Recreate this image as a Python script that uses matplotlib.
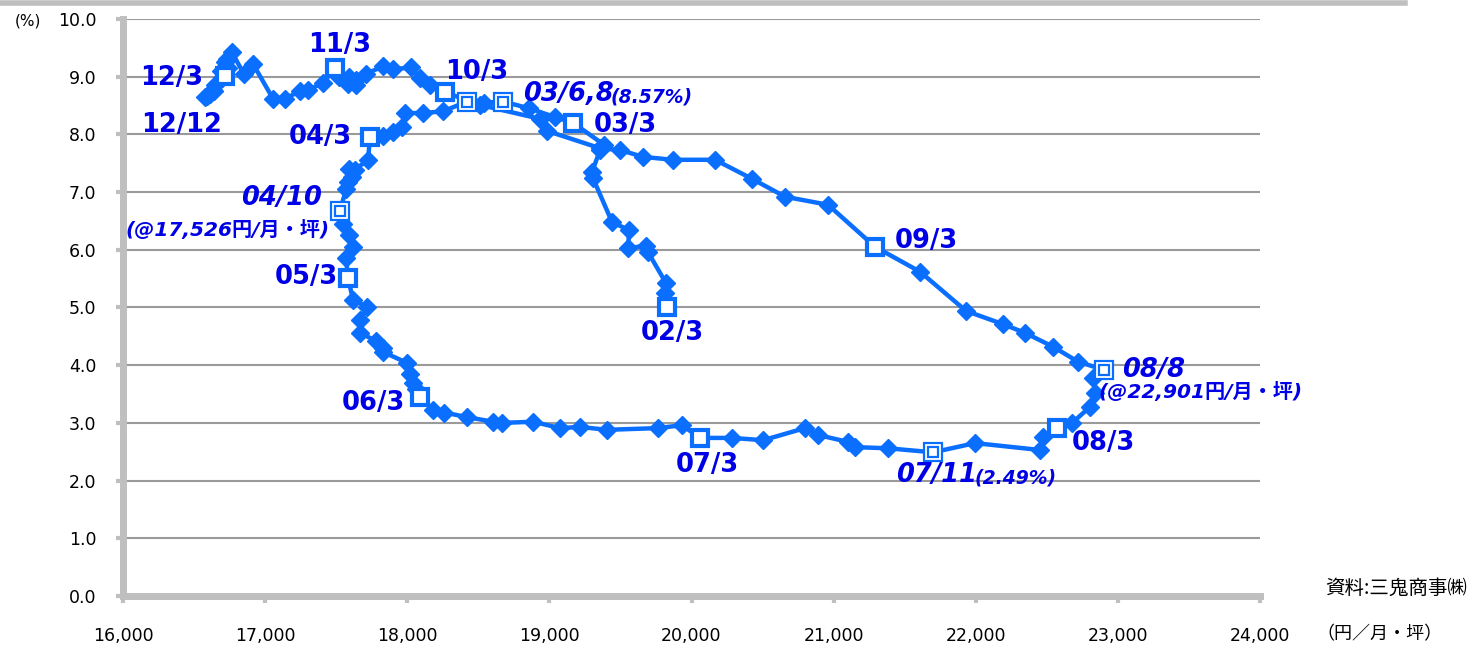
import matplotlib
matplotlib.use("Agg")
import matplotlib.pyplot as plt
from matplotlib.lines import Line2D
from matplotlib.ticker import FuncFormatter

# ---------------- data ----------------
months = [
    "02/3", "02/4", "02/5", "02/6", "02/7", "02/8", "02/9", "02/10", "02/11", "02/12",
    "03/1", "03/2", "03/3", "03/4", "03/5", "03/6", "03/7", "03/8", "03/9", "03/10", "03/11", "03/12",
    "04/1", "04/2", "04/3", "04/4", "04/5", "04/6", "04/7", "04/8", "04/9", "04/10", "04/11", "04/12",
    "05/1", "05/2", "05/3", "05/4", "05/5", "05/6", "05/7", "05/8", "05/9", "05/10", "05/11", "05/12",
    "06/1", "06/2", "06/3", "06/4", "06/5", "06/6", "06/7", "06/8", "06/9", "06/10", "06/11", "06/12",
    "07/1", "07/2", "07/3", "07/4", "07/5", "07/6", "07/7", "07/8", "07/9", "07/10", "07/11", "07/12",
    "08/1", "08/2", "08/3", "08/4", "08/5", "08/6", "08/7", "08/8", "08/9", "08/10", "08/11", "08/12",
    "09/1", "09/2", "09/3", "09/4", "09/5", "09/6", "09/7", "09/8", "09/9", "09/10", "09/11", "09/12",
    "10/1", "10/2", "10/3", "10/4", "10/5", "10/6", "10/7", "10/8", "10/9", "10/10", "10/11", "10/12",
    "11/1", "11/2", "11/3", "11/4", "11/5", "11/6", "11/7", "11/8", "11/9", "11/10", "11/11", "11/12",
    "12/1", "12/2", "12/3", "12/4", "12/5", "12/6", "12/7", "12/8", "12/9", "12/10", "12/11", "12/12",
]
rent = [
    19828, 19814, 19821, 19694, 19680, 19554, 19561, 19441, 19307, 19300,
    19357, 19385, 19167, 19040, 18860, 18674, 18540, 18421, 18252, 18111, 17984, 17963,
    17900, 17830, 17738, 17724, 17633, 17590, 17611, 17583, 17570, 17526, 17548, 17590,
    17619, 17570, 17583, 17619, 17717, 17668, 17668, 17780, 17830, 17830, 17998, 18020,
    18041, 18060, 18090, 18181, 18260, 18421, 18604, 18667, 18885, 19075, 19216, 19406,
    19765, 19933, 20060, 20285, 20504, 20799, 20891, 21102, 21151, 21383, 21700, 21995,
    22453, 22474, 22572, 22678, 22805, 22840, 22826, 22901, 22720, 22544, 22347, 22193,
    21932, 21608, 21292, 20961, 20658, 20426, 20166, 19870, 19659, 19497, 19357, 18984,
    18934, 18512, 18266, 18160, 18090, 18027, 17900, 17830, 17710, 17640, 17590, 17640,
    17580, 17520, 17492, 17407, 17302, 17245, 17140, 17055, 16915, 16850, 16767, 16732,
    16740, 16700, 16718, 16720, 16690, 16650, 16640, 16610, 16633, 16600, 16590, 16577,
]
vacancy = [
    5.00, 5.25, 5.42, 5.96, 6.07, 6.03, 6.34, 6.48, 7.24, 7.35,
    7.73, 7.82, 8.20, 8.30, 8.45, 8.57, 8.55, 8.57, 8.40, 8.37, 8.37, 8.13,
    8.05, 7.97, 7.95, 7.56, 7.39, 7.40, 7.26, 7.18, 7.05, 6.67, 6.45, 6.25,
    6.05, 5.85, 5.51, 5.13, 5.01, 4.78, 4.56, 4.42, 4.30, 4.23, 4.04, 3.85,
    3.69, 3.58, 3.45, 3.22, 3.18, 3.10, 3.02, 3.00, 3.02, 2.91, 2.93, 2.88,
    2.91, 2.96, 2.74, 2.74, 2.70, 2.91, 2.79, 2.67, 2.58, 2.56, 2.49, 2.65,
    2.53, 2.76, 2.91, 3.00, 3.28, 3.52, 3.78, 3.92, 4.06, 4.32, 4.56, 4.71,
    4.94, 5.62, 6.05, 6.78, 6.92, 7.23, 7.56, 7.56, 7.61, 7.73, 7.76, 8.06,
    8.27, 8.51, 8.73, 8.85, 8.98, 9.16, 9.13, 9.18, 9.05, 8.85, 9.00, 8.95,
    8.88, 9.00, 9.15, 8.89, 8.77, 8.75, 8.62, 8.62, 9.22, 9.05, 9.42, 9.30,
    9.15, 8.98, 9.02, 9.25, 9.10, 8.85, 8.75, 8.70, 8.77, 8.68, 8.66, 8.65,
]
double_marks = ["03/6", "03/8", "04/10", "07/11", "08/8"]

x_ticks = [16000, 17000, 18000, 19000, 20000, 21000, 22000, 23000, 24000]
y_ticks = [0, 1, 2, 3, 4, 5, 6, 7, 8, 9, 10]

# labels: (text, x, y, ha, italic)
labels = [
    ("12/3", 16345, 8.98, "center", False),
    ("12/12", 16415, 8.16, "center", False),
    ("11/3", 17527, 9.55, "center", False),
    ("10/3", 18491, 9.08, "center", False),
    ("03/6,8", 18815, 8.70, "left", True),
    ("03/3", 19314, 8.16, "left", False),
    ("04/3", 17611, 7.95, "right", False),
    ("04/10", 17400, 6.90, "right", True),
    ("05/3", 17513, 5.53, "right", False),
    ("02/3", 19863, 4.56, "center", False),
    ("06/3", 17984, 3.34, "right", False),
    ("07/3", 20109, 2.27, "center", False),
    ("09/3", 21433, 6.15, "left", False),
    ("08/8", 23030, 3.92, "left", True),
    ("08/3", 22678, 2.65, "left", False),
    ("07/11", 21440, 2.10, "left", True),
]
small_labels = [
    ("(8.57%)", 19430, 8.65, "left"),
    ("(2.49%)", 21990, 2.05, "left"),
    ("(@17,526円/月・坪)", 17457, 6.34, "right"),
    ("(@22,901円/月・坪)", 22861, 3.54, "left"),
]

# ---------------- style ----------------
LINE = "#0A6EFF"
TXT = "#0000E6"
GRAY = "#BFBFBF"
JP = ["DejaVu Sans", "Noto Sans CJK JP"]
plt.rcParams["font.family"] = JP

fig = plt.figure(figsize=(14.69, 6.49), dpi=100)
ax = fig.add_axes([123 / 1469, 53 / 649, (1260 - 123) / 1469, (596 - 19) / 649])

ax.plot(rent, vacancy, color=LINE, lw=3.2, marker="D", ms=9, mfc=LINE, mec=LINE, zorder=3)

for m, xv, yv in zip(months, rent, vacancy):
    if m in double_marks:
        ax.plot([xv], [yv], marker="s", ms=12.5, mfc="white", mec=LINE, mew=1.6, zorder=5)
        ax.plot([xv], [yv], marker="s", ms=6.5, mfc="white", mec=LINE, mew=1.6, zorder=6)
    elif m.endswith("/3"):
        ax.plot([xv], [yv], marker="s", ms=11.5, mfc="white", mec=LINE, mew=3, zorder=5)

for txt, xv, yv, ha, it in labels:
    ax.text(xv, yv, txt, color=TXT, fontsize=18.5, fontweight="bold",
            style="italic" if it else "normal", ha=ha, va="center", zorder=7)

for i, (txt, xv, yv, ha) in enumerate(small_labels):
    fs = 13.5 if i < 2 else 14.5
    ax.text(xv, yv, txt, color=TXT, fontsize=fs, fontweight="bold", style="italic",
            ha=ha, va="center", family=JP, zorder=7)

ax.set_xlim(16000, 24000)
ax.set_ylim(0, 10)
ax.set_xticks(x_ticks)
ax.set_yticks(y_ticks)
ax.xaxis.set_major_formatter(FuncFormatter(lambda v, p: f"{int(v):,}"))
ax.yaxis.set_major_formatter(FuncFormatter(lambda v, p: f"{v:.1f}"))
ax.grid(axis="y", color="#9A9A9A", lw=1.5)
ax.set_axisbelow(True)
for s in ["top", "right"]:
    ax.spines[s].set_visible(False)
for s in ["left", "bottom"]:
    ax.spines[s].set_color(GRAY)
    ax.spines[s].set_linewidth(5)
ax.tick_params(axis="y", direction="out", length=5, width=3, color=GRAY, pad=14,
               labelsize=12.5, labelcolor="black")
ax.tick_params(axis="x", direction="out", length=5, width=3, color=GRAY, pad=17,
               labelsize=12.5, labelcolor="black")

fig.text(28 / 1469, 1 - 21 / 649, "(%)", fontsize=11, ha="center", va="center")
fig.text(1467 / 1469, 1 - 588 / 649, "資料:三鬼商事㈱", fontsize=14, ha="right", va="center",
         family=["Noto Sans CJK JP", "DejaVu Sans"])
fig.text(1443 / 1469, 1 - 634 / 649, "（円／月・坪）", fontsize=13, ha="right", va="center",
         family=["Noto Sans CJK JP", "DejaVu Sans"])

fig.add_artist(Line2D([0, 1405 / 1469], [1 - 2.5 / 649, 1 - 2.5 / 649], color=GRAY, lw=4,
                      transform=fig.transFigure))

fig.savefig("out.png", dpi=100)
